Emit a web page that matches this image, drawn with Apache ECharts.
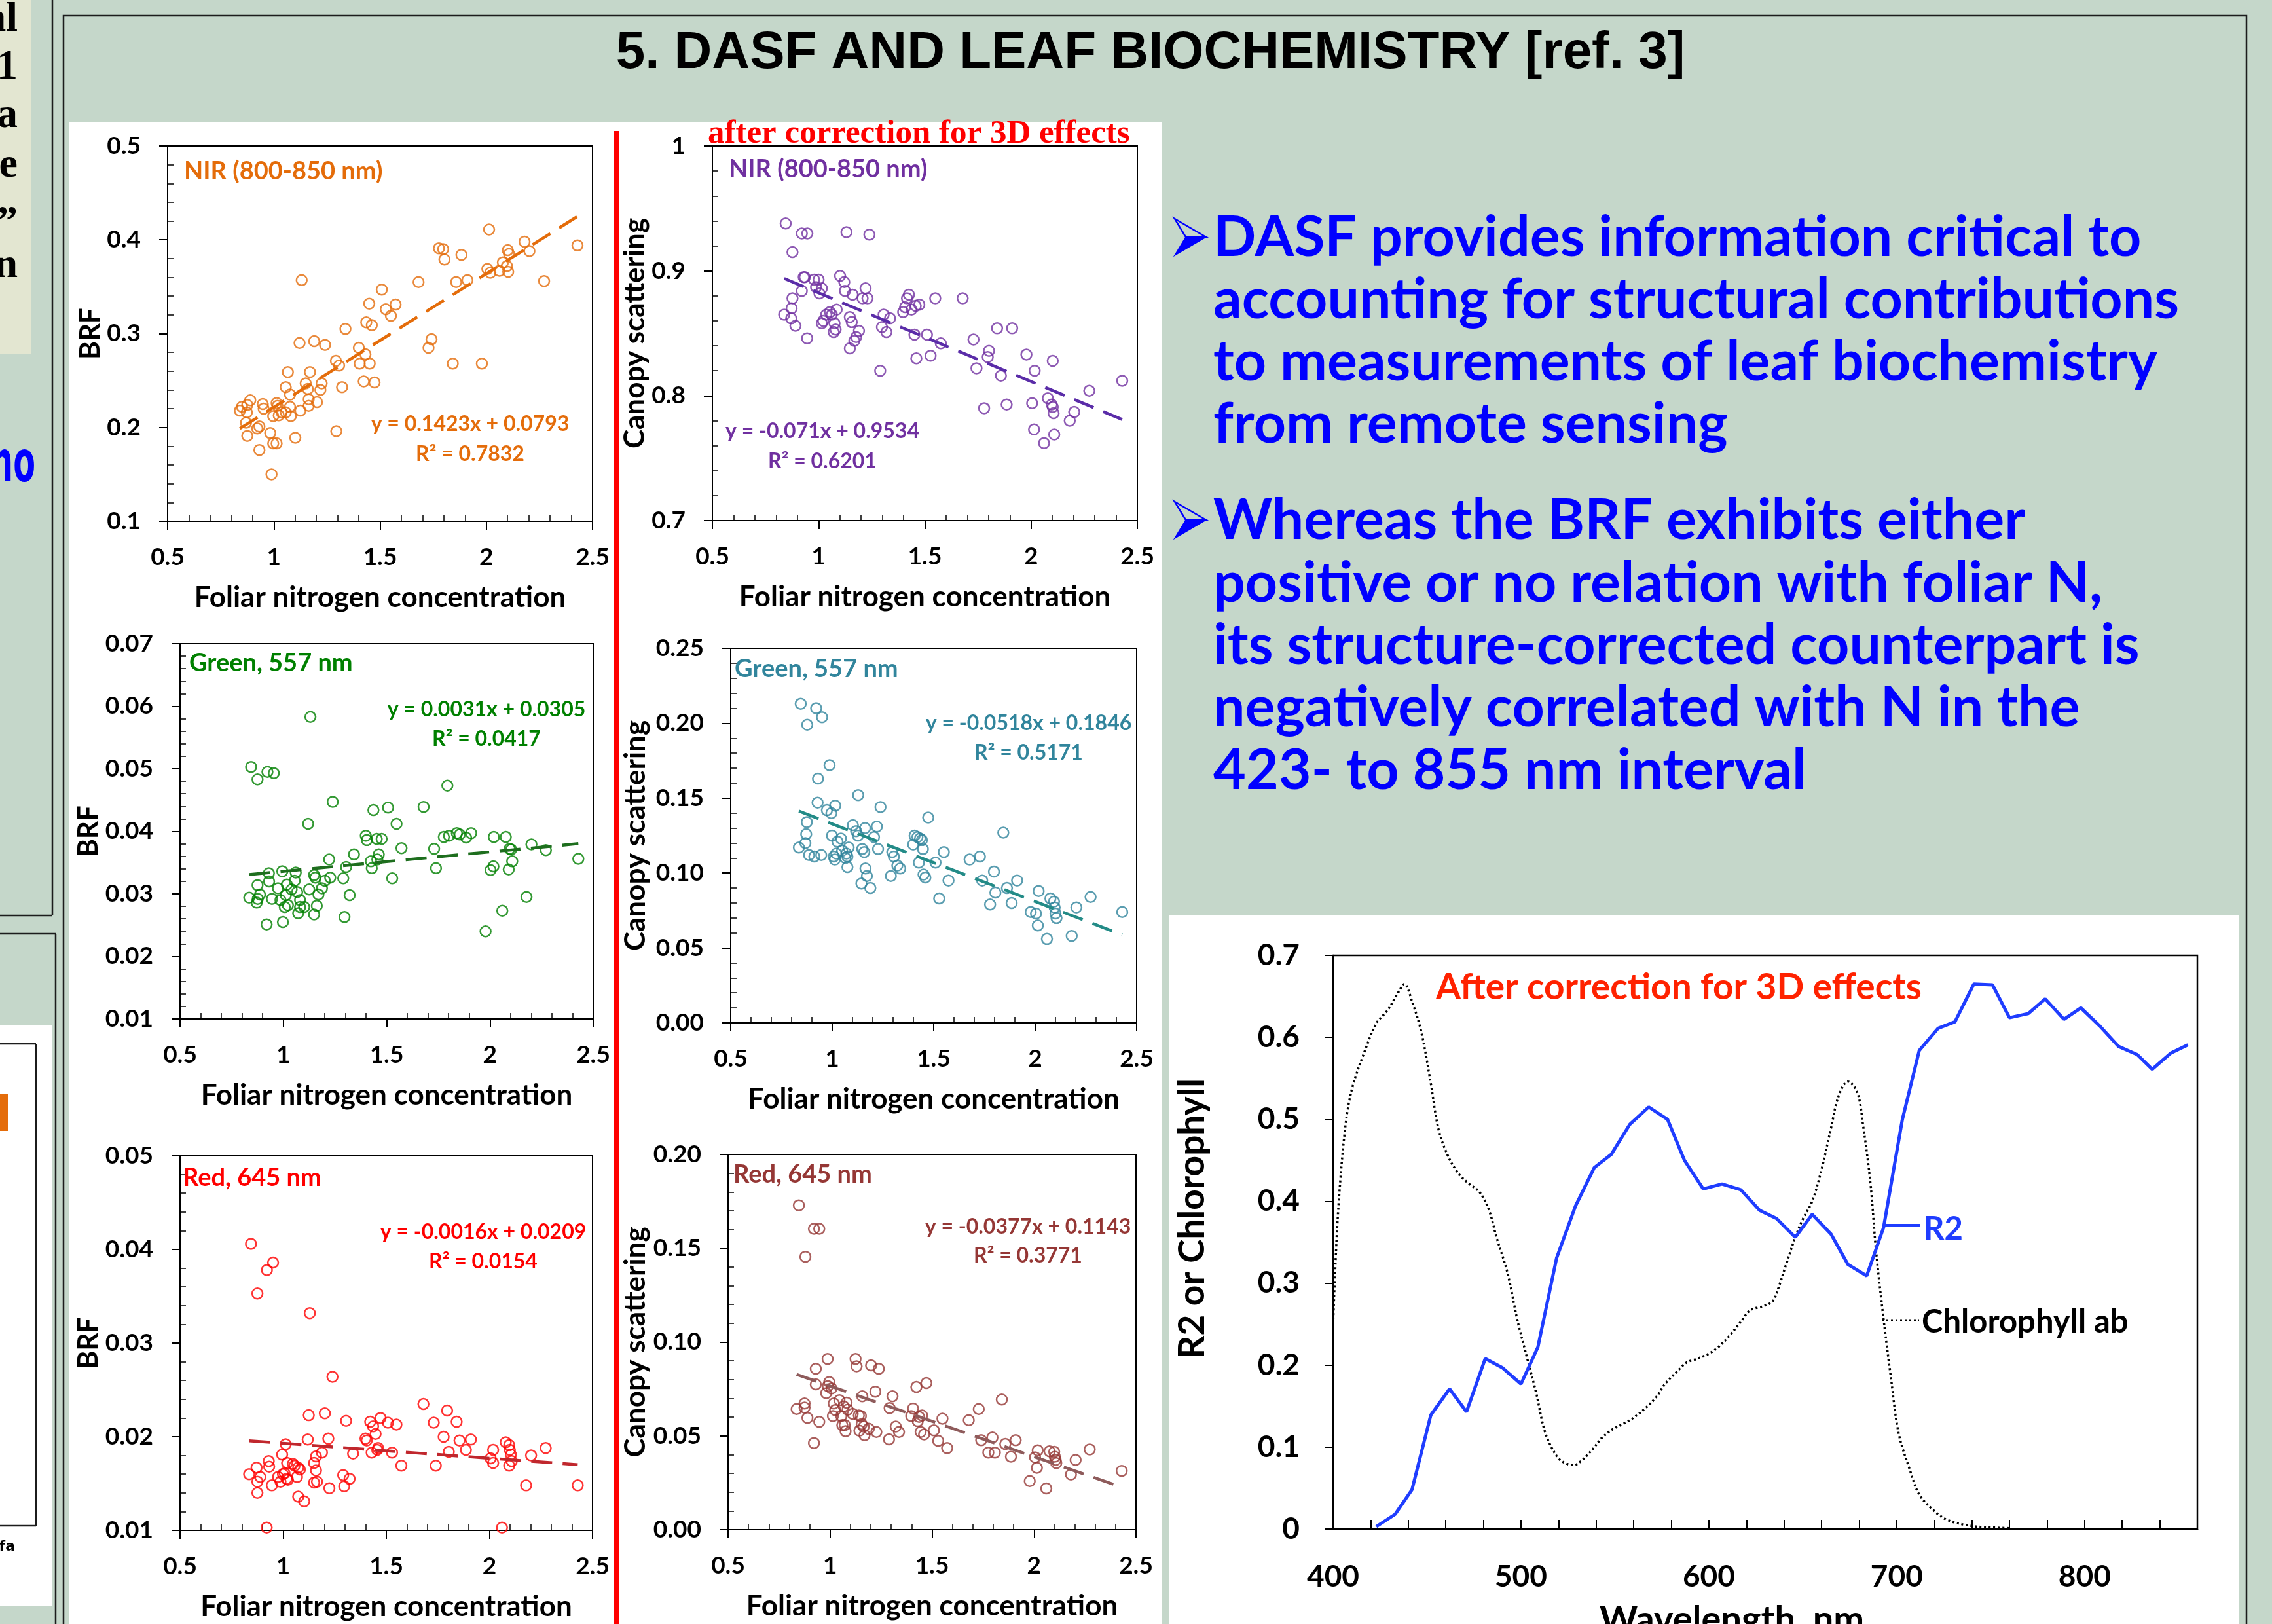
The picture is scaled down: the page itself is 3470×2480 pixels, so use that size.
<!DOCTYPE html>
<html><head><meta charset="utf-8">
<script src="https://cdn.jsdelivr.net/npm/echarts@6/dist/echarts.min.js"></script>
<style>html,body{margin:0;padding:0;background:#C5D7CA;overflow:hidden}#c{width:3470px;height:2480px}</style>
</head><body><div id="c"></div>
<script>
// ---------------- DATA ----------------
const nirBrf = [[0.840,0.218],[0.850,0.222],[0.873,0.216],[0.875,0.224],[0.889,0.229],[0.869,0.205],[0.875,0.191],[0.922,0.199],[0.932,0.201],[0.932,0.176],[0.948,0.225],[0.952,0.220],[0.983,0.194],[0.989,0.150],[0.997,0.183],[1.013,0.183],[0.997,0.212],[1.013,0.226],[1.017,0.223],[1.023,0.213],[1.036,0.216],[1.056,0.216],[1.066,0.259],[1.056,0.243],[1.076,0.235],[1.076,0.222],[1.080,0.212],[1.101,0.189],[1.121,0.290],[1.125,0.218],[1.131,0.357],[1.150,0.247],[1.160,0.241],[1.164,0.230],[1.164,0.223],[1.170,0.259],[1.190,0.292],[1.203,0.227],[1.219,0.240],[1.225,0.247],[1.241,0.288],[1.292,0.271],[1.294,0.196],[1.307,0.266],[1.321,0.243],[1.337,0.305],[1.400,0.285],[1.404,0.268],[1.423,0.249],[1.431,0.278],[1.435,0.312],[1.449,0.332],[1.451,0.268],[1.461,0.309],[1.474,0.248],[1.508,0.347],[1.527,0.326],[1.551,0.319],[1.573,0.331],[1.681,0.355],[1.728,0.285],[1.742,0.294],[1.777,0.391],[1.797,0.390],[1.803,0.379],[1.842,0.268],[1.858,0.355],[1.883,0.384],[1.911,0.357],[1.979,0.268],[2.005,0.369],[2.013,0.411],[2.019,0.365],[2.062,0.367],[2.078,0.376],[2.097,0.372],[2.101,0.389],[2.107,0.385],[2.103,0.366],[2.180,0.398],[2.203,0.388],[2.272,0.356],[2.429,0.394]];
const nirScat = [[0.838,0.865],[0.845,0.938],[0.873,0.870],[0.877,0.878],[0.877,0.915],[0.871,0.862],[0.891,0.856],[0.921,0.930],[0.947,0.930],[0.921,0.884],[0.930,0.895],[0.935,0.895],[0.946,0.846],[0.979,0.893],[0.988,0.887],[1.000,0.893],[1.004,0.882],[1.015,0.886],[1.015,0.858],[1.022,0.860],[1.036,0.865],[1.053,0.867],[1.062,0.865],[1.071,0.851],[1.075,0.858],[1.080,0.853],[1.085,0.869],[1.101,0.896],[1.121,0.891],[1.124,0.884],[1.131,0.931],[1.147,0.863],[1.147,0.838],[1.156,0.859],[1.160,0.881],[1.168,0.844],[1.177,0.847],[1.190,0.852],[1.207,0.878],[1.221,0.886],[1.230,0.878],[1.239,0.929],[1.290,0.820],[1.298,0.855],[1.306,0.865],[1.319,0.851],[1.336,0.862],[1.398,0.867],[1.407,0.871],[1.416,0.878],[1.425,0.881],[1.437,0.869],[1.457,0.872],[1.474,0.873],[1.451,0.849],[1.460,0.830],[1.510,0.849],[1.527,0.832],[1.549,0.878],[1.575,0.842],[1.678,0.878],[1.729,0.845],[1.743,0.822],[1.779,0.790],[1.802,0.836],[1.796,0.831],[1.840,0.854],[1.858,0.816],[1.885,0.793],[1.911,0.854],[1.978,0.833],[2.005,0.794],[2.014,0.773],[2.017,0.820],[2.061,0.762],[2.079,0.798],[2.097,0.793],[2.102,0.791],[2.102,0.828],[2.106,0.786],[2.109,0.769],[2.182,0.780],[2.203,0.787],[2.274,0.804],[2.429,0.812]];
const greenBrf = [[0.835,0.0294],[0.844,0.0503],[0.871,0.0286],[0.875,0.0483],[0.875,0.0314],[0.876,0.0292],[0.887,0.0299],[0.919,0.0251],[0.923,0.0495],[0.930,0.0333],[0.931,0.0320],[0.945,0.0292],[0.954,0.0493],[0.974,0.0309],[0.986,0.0290],[0.995,0.0336],[0.998,0.0255],[1.007,0.0279],[1.012,0.0298],[1.017,0.0315],[1.022,0.0282],[1.040,0.0307],[1.055,0.0321],[1.060,0.0334],[1.067,0.0303],[1.072,0.0269],[1.081,0.0290],[1.081,0.0279],[1.101,0.0279],[1.120,0.0412],[1.125,0.0307],[1.131,0.0583],[1.149,0.0330],[1.149,0.0267],[1.155,0.0326],[1.162,0.0281],[1.170,0.0299],[1.187,0.0309],[1.201,0.0321],[1.222,0.0355],[1.227,0.0326],[1.239,0.0447],[1.290,0.0325],[1.296,0.0263],[1.304,0.0343],[1.321,0.0298],[1.342,0.0363],[1.399,0.0393],[1.404,0.0386],[1.424,0.0352],[1.428,0.0341],[1.436,0.0434],[1.452,0.0388],[1.455,0.0355],[1.462,0.0363],[1.476,0.0388],[1.507,0.0438],[1.527,0.0325],[1.548,0.0412],[1.572,0.0373],[1.679,0.0439],[1.730,0.0372],[1.739,0.0341],[1.777,0.0391],[1.794,0.0473],[1.802,0.0393],[1.840,0.0397],[1.854,0.0395],[1.885,0.0390],[1.909,0.0397],[1.979,0.0240],[2.003,0.0338],[2.017,0.0344],[2.019,0.0391],[2.060,0.0273],[2.077,0.0391],[2.091,0.0339],[2.095,0.0372],[2.103,0.0371],[2.108,0.0352],[2.177,0.0295],[2.201,0.0379],[2.271,0.0370],[2.428,0.0356]];
const greenScat = [[0.836,0.117],[0.845,0.213],[0.868,0.120],[0.872,0.126],[0.875,0.134],[0.877,0.199],[0.886,0.112],[0.912,0.111],[0.921,0.210],[0.928,0.147],[0.930,0.163],[0.946,0.112],[0.950,0.204],[0.974,0.142],[0.987,0.172],[0.996,0.140],[0.999,0.125],[1.008,0.111],[1.013,0.109],[1.015,0.145],[1.020,0.113],[1.026,0.121],[1.043,0.123],[1.049,0.115],[1.065,0.110],[1.070,0.113],[1.075,0.111],[1.081,0.117],[1.075,0.104],[1.102,0.132],[1.118,0.128],[1.127,0.125],[1.128,0.152],[1.144,0.093],[1.148,0.116],[1.158,0.114],[1.162,0.130],[1.164,0.103],[1.171,0.098],[1.188,0.090],[1.206,0.124],[1.220,0.131],[1.226,0.116],[1.238,0.144],[1.289,0.098],[1.296,0.114],[1.304,0.111],[1.321,0.105],[1.335,0.103],[1.399,0.119],[1.406,0.125],[1.420,0.124],[1.433,0.123],[1.442,0.122],[1.427,0.107],[1.447,0.116],[1.450,0.099],[1.459,0.097],[1.473,0.137],[1.509,0.107],[1.527,0.083],[1.550,0.114],[1.573,0.095],[1.677,0.109],[1.728,0.111],[1.739,0.095],[1.778,0.079],[1.797,0.101],[1.804,0.087],[1.843,0.127],[1.861,0.090],[1.884,0.080],[1.911,0.095],[1.978,0.074],[2.004,0.073],[2.013,0.065],[2.017,0.088],[2.058,0.056],[2.075,0.083],[2.093,0.081],[2.096,0.077],[2.100,0.073],[2.105,0.070],[2.180,0.058],[2.203,0.077],[2.273,0.084],[2.429,0.074]];
const redBrf = [[0.835,0.0160],[0.844,0.0406],[0.871,0.0167],[0.875,0.0353],[0.875,0.0140],[0.875,0.0152],[0.889,0.0157],[0.920,0.0103],[0.921,0.0378],[0.930,0.0174],[0.932,0.0168],[0.945,0.0148],[0.951,0.0386],[0.975,0.0157],[0.987,0.0152],[0.995,0.0181],[0.999,0.0160],[1.007,0.0161],[1.012,0.0192],[1.016,0.0155],[1.023,0.0154],[1.019,0.0172],[1.047,0.0171],[1.055,0.0169],[1.067,0.0157],[1.073,0.0136],[1.073,0.0167],[1.081,0.0165],[1.102,0.0131],[1.119,0.0197],[1.124,0.0223],[1.129,0.0332],[1.150,0.0172],[1.150,0.0151],[1.159,0.0179],[1.159,0.0164],[1.164,0.0152],[1.188,0.0183],[1.202,0.0225],[1.219,0.0198],[1.224,0.0145],[1.239,0.0264],[1.291,0.0159],[1.296,0.0147],[1.305,0.0217],[1.322,0.0155],[1.339,0.0182],[1.399,0.0198],[1.405,0.0196],[1.422,0.0216],[1.429,0.0183],[1.436,0.0211],[1.448,0.0203],[1.456,0.0186],[1.460,0.0188],[1.472,0.0220],[1.508,0.0215],[1.528,0.0183],[1.549,0.0213],[1.573,0.0169],[1.680,0.0235],[1.730,0.0215],[1.740,0.0169],[1.778,0.0200],[1.795,0.0228],[1.803,0.0184],[1.841,0.0216],[1.855,0.0196],[1.886,0.0186],[1.910,0.0197],[2.006,0.0177],[2.018,0.0186],[2.018,0.0172],[2.061,0.0103],[2.079,0.0194],[2.096,0.0191],[2.099,0.0186],[2.104,0.0181],[2.096,0.0169],[2.108,0.0174],[2.178,0.0148],[2.202,0.0180],[2.273,0.0188],[2.428,0.0148]];
const redScat = [[0.836,0.0643],[0.847,0.1729],[0.875,0.0651],[0.875,0.0673],[0.879,0.1455],[0.889,0.0596],[0.921,0.0462],[0.921,0.1604],[0.930,0.0858],[0.930,0.0775],[0.947,0.1604],[0.947,0.0575],[0.981,0.0728],[0.988,0.0910],[0.989,0.0765],[0.996,0.0787],[1.007,0.0753],[1.014,0.0606],[1.018,0.0673],[1.025,0.0638],[1.046,0.0690],[1.055,0.0606],[1.060,0.0558],[1.067,0.0657],[1.072,0.0558],[1.076,0.0525],[1.081,0.0677],[1.086,0.0640],[1.111,0.0618],[1.125,0.0910],[1.130,0.0871],[1.141,0.0609],[1.144,0.0528],[1.151,0.0606],[1.155,0.0563],[1.158,0.0711],[1.165,0.0550],[1.169,0.0504],[1.190,0.0538],[1.201,0.0876],[1.222,0.0736],[1.227,0.0521],[1.239,0.0858],[1.289,0.0482],[1.292,0.0648],[1.306,0.0711],[1.322,0.0550],[1.338,0.0521],[1.398,0.0606],[1.407,0.0646],[1.423,0.0761],[1.430,0.0579],[1.437,0.0601],[1.444,0.0521],[1.451,0.0609],[1.461,0.0508],[1.472,0.0782],[1.509,0.0530],[1.530,0.0474],[1.551,0.0592],[1.574,0.0435],[1.680,0.0584],[1.729,0.0643],[1.741,0.0477],[1.776,0.0411],[1.796,0.0491],[1.808,0.0411],[1.842,0.0694],[1.859,0.0457],[1.887,0.0389],[1.910,0.0477],[1.979,0.0259],[2.005,0.0386],[2.014,0.0330],[2.018,0.0423],[2.060,0.0220],[2.076,0.0418],[2.099,0.0415],[2.102,0.0389],[2.106,0.0372],[2.109,0.0355],[2.181,0.0294],[2.204,0.0372],[2.273,0.0428],[2.430,0.0313]];

const panelNames = ['NIR (800-850 nm)','NIR (800-850 nm)','Green, 557 nm','Green, 557 nm','Red, 645 nm','Red, 645 nm'];
const panelYTitles = ['BRF','Canopy scattering','BRF','Canopy scattering','BRF','Canopy scattering'];
const xTitle = 'Foliar nitrogen concentration';
const trendSlopes = [0.1423,-0.071,0.0031,-0.0518,-0.0016,-0.0377];
const trendIntercepts = [0.0793,0.9534,0.0305,0.1846,0.0209,0.1143];
const equationTexts = ['y = 0.1423x + 0.0793','y = -0.071x + 0.9534','y = 0.0031x + 0.0305','y = -0.0518x + 0.1846','y = -0.0016x + 0.0209','y = -0.0377x + 0.1143'];
const r2Texts = ['R² = 0.7832','R² = 0.6201','R² = 0.0417','R² = 0.5171','R² = 0.0154','R² = 0.3771'];
const yMins = [0.1,0.7,0.01,0,0.01,0];
const yMaxs = [0.5,1.0,0.07,0.25,0.05,0.20];
const yIntervals = [0.1,0.1,0.01,0.05,0.01,0.05];
const yDecimals = [1,1,2,2,2,2];
const xMin = 0.5, xMax = 2.5, xInterval = 0.5;

const r2Wavelengths = [423,433,442,452,462,471,481,490,500,509,519,529,539,548,558,568,578,587,597,607,617,627,636,646,655,665,674,684,693,703,712,722,731,741,751,760,770,779,789,798,808,818,828,836,846,855];
const r2Values = [0.003,0.018,0.048,0.139,0.171,0.143,0.208,0.197,0.177,0.222,0.331,0.394,0.441,0.457,0.494,0.515,0.500,0.450,0.415,0.421,0.414,0.389,0.379,0.356,0.384,0.360,0.323,0.309,0.368,0.500,0.584,0.611,0.619,0.665,0.664,0.624,0.629,0.647,0.622,0.636,0.614,0.589,0.579,0.561,0.581,0.591];
const chlWavelengths = [400,402,404,406,408,411,416,423,429,435,438,442,447,452,456,461,467,472,478,483,487,493,498,503,508,513,519,523,528,532,538,543,549,555,560,566,572,577,583,588,594,600,605,611,617,622,629,634,637,641,646,650,655,660,665,669,674,679,682,686,689,693,697,701,707,712,720,727,739,750,760];
const chlValues = [0.25,0.36,0.43,0.48,0.515,0.545,0.578,0.617,0.633,0.656,0.665,0.644,0.606,0.544,0.489,0.456,0.433,0.422,0.411,0.389,0.356,0.311,0.256,0.211,0.167,0.117,0.089,0.081,0.078,0.083,0.097,0.111,0.122,0.129,0.136,0.147,0.161,0.178,0.192,0.203,0.208,0.214,0.222,0.236,0.253,0.267,0.272,0.278,0.294,0.322,0.356,0.378,0.400,0.439,0.489,0.528,0.546,0.533,0.494,0.422,0.339,0.256,0.183,0.117,0.072,0.042,0.022,0.011,0.004,0.002,0.001];

const bullet1 = ['DASF provides information critical to','accounting for structural contributions','to measurements of leaf biochemistry','from remote sensing'];
const bullet2 = ['Whereas the BRF exhibits either','positive or no relation with foliar N,','its structure-corrected counterpart is','negatively correlated with N in the','423- to 855 nm interval'];

// ---------------- LAYOUT / STYLE ----------------
const scatterSets = [nirBrf, nirScat, greenBrf, greenScat, redBrf, redScat];
const L = [
  {left:256, top:223, w:649, h:573, yGap:95,  color:'#E46C0A', line:'#E46C0A', lab:[281,262],  eq:[718,648,694]},
  {left:1088,top:223, w:649, h:572, yGap:92,  color:'#7030A0', line:'#5A2CA8', lab:[1113,259], eq:[1256,659,705]},
  {left:275, top:983, w:631, h:573, yGap:115, color:'#008000', line:'#1E6E1E', lab:[289,1013], eq:[743,1084,1129]},
  {left:1116,top:990, w:620, h:572, yGap:123, color:'#31859C', line:'#238B87', lab:[1122,1022],eq:[1571,1105,1150]},
  {left:275, top:1765,w:630, h:572, yGap:115, color:'#FF0000', line:'#C0272D', lab:[279,1799], eq:[738,1882,1927]},
  {left:1112,top:1763,w:623, h:573, yGap:119, color:'#953735', line:'#8E5B5B', lab:[1120,1794],eq:[1570,1874,1918]}
];
const FONT = 'Lato';
const grids = [], xAxes = [], yAxes = [], series = [];
L.forEach((p, i) => {
  grids.push({left:p.left, top:p.top, width:p.w, height:p.h, show:true, borderColor:'#000', borderWidth:2, backgroundColor:'transparent', containLabel:false, outerBoundsMode:'none'});
  const common = {
    gridIndex:i, type:'value',
    axisLine:{show:true, onZero:false, lineStyle:{color:'#000', width:2}},
    axisTick:{show:true, inside:false, length:13, lineStyle:{color:'#000', width:2}},
    minorTick:{show:true, splitNumber:5, length:-9, lineStyle:{color:'#000', width:1.5}},
    splitLine:{show:false}, minorSplitLine:{show:false},
    nameLocation:'middle',
    nameTextStyle:{fontFamily:FONT, fontWeight:'bold', fontSize:44, color:'#000'}
  };
  xAxes.push(Object.assign({}, common, {
    min:xMin, max:xMax, interval:xInterval, position:'bottom',
    name:xTitle, nameGap:95,
    axisLabel:{fontFamily:FONT, fontWeight:'bold', fontSize:37, color:'#000', margin:37, formatter:v => String(Number(v.toFixed(1)))}
  }));
  yAxes.push(Object.assign({}, common, {
    min:yMins[i], max:yMaxs[i], interval:yIntervals[i], position:'left',
    name:panelYTitles[i], nameGap:p.yGap,
    nameTextStyle:{fontFamily:FONT, fontWeight:'bold', fontSize:i%2===0?42:44, color:'#000'},
    axisLabel:{fontFamily:FONT, fontWeight:'bold', fontSize:37, color:'#000', margin:41,
      formatter: (i===1) ? (v => String(Number(v.toFixed(1)))) : (v => v.toFixed(yDecimals[i]))}
  }));
  const d = scatterSets[i];
  series.push({type:'scatter', xAxisIndex:i, yAxisIndex:i, data:d, symbol:'circle', symbolSize:16,
    itemStyle:{color:'rgba(255,255,255,0)', borderColor:p.color, borderWidth:2.5}, silent:true, z:3});
  const xs = d.map(q => q[0]);
  const x0 = Math.min(...xs), x1 = Math.max(...xs);
  series.push({type:'line', xAxisIndex:i, yAxisIndex:i, symbol:'none', silent:true, z:4,
    data:[[x0, trendSlopes[i]*x0 + trendIntercepts[i]], [x1, trendSlopes[i]*x1 + trendIntercepts[i]]],
    lineStyle:{color:p.line, width:4.5, type:[32,16]}});
});

// line chart (grid 6)
grids.push({left:2036, top:1459, width:1320, height:876, show:true, borderColor:'#000', borderWidth:2.5, backgroundColor:'transparent', containLabel:false, outerBoundsMode:'none'});
xAxes.push({gridIndex:6, type:'value', min:400, max:860, interval:20, position:'bottom',
  axisLine:{show:true, onZero:false, lineStyle:{color:'#000', width:2.5}},
  axisTick:{show:true, inside:true, length:14, lineStyle:{color:'#000', width:2}},
  splitLine:{show:false},
  axisLabel:{fontFamily:FONT, fontWeight:'bold', fontSize:46, color:'#000', margin:50, formatter:v => (v % 100 === 0 ? String(v) : '')},
  name:'Wavelength, nm', nameLocation:'middle', nameGap:111,
  nameTextStyle:{fontFamily:FONT, fontWeight:'bold', fontSize:56, color:'#000', padding:[0,102,0,0]}
});
yAxes.push({gridIndex:6, type:'value', min:0, max:0.7, interval:0.1, position:'left',
  axisLine:{show:true, onZero:false, lineStyle:{color:'#000', width:2.5}},
  axisTick:{show:true, inside:false, length:13, lineStyle:{color:'#000', width:2}},
  splitLine:{show:false},
  axisLabel:{fontFamily:FONT, fontWeight:'bold', fontSize:46, color:'#000', margin:51, formatter:v => (Math.abs(v) < 1e-9 ? '0' : v.toFixed(1))},
  name:'R2 or Chlorophyll', nameLocation:'middle', nameGap:187,
  nameTextStyle:{fontFamily:FONT, fontWeight:'bold', fontSize:55, color:'#000', padding:[0,0,0,72]}
});
series.push({type:'line', xAxisIndex:6, yAxisIndex:6, symbol:'none', silent:true, z:5, smooth:0.35,
  data:chlWavelengths.map((w, k) => [w, chlValues[k]]),
  lineStyle:{color:'#000', width:3.5, type:[3,4]}});
series.push({type:'line', xAxisIndex:6, yAxisIndex:6, symbol:'none', silent:true, z:6,
  data:r2Wavelengths.map((w, k) => [w, r2Values[k]]),
  lineStyle:{color:'#1F3DFF', width:5}});

// ---------------- GRAPHIC (page, labels) ----------------
const G = [];
function rect(x, y, w, h, fill, z, stroke, lw) {
  G.push({type:'rect', silent:true, z:z, shape:{x:x, y:y, width:w, height:h},
    style:{fill:fill || 'transparent', stroke:stroke || null, lineWidth:lw || 0}});
}
function line(x1, y1, x2, y2, stroke, lw, dash, z) {
  G.push({type:'line', silent:true, z:z == null ? 20 : z, shape:{x1:x1, y1:y1, x2:x2, y2:y2},
    style:{stroke:stroke, lineWidth:lw, lineDash:dash || null}});
}
function poly(points, fill, stroke, lw) {
  G.push({type:'polygon', silent:true, z:30, shape:{points:points},
    style:{fill:fill || 'transparent', stroke:stroke || null, lineWidth:lw || 0, lineJoin:'miter'}});
}
function txt(x, y, text, o) {
  o = o || {};
  const al = o.align || 'left', va = o.va || 'middle';
  G.push({type:'text', silent:true, z:30, x:x, y:y, rotation:o.rot || 0, scaleX:o.sx || 1,
    style:{text:text, fill:o.color || '#000', fontFamily:o.family || FONT, fontWeight:o.weight || 'bold',
      fontSize:o.size || 40, lineHeight:o.lh, align:al, textAlign:al, verticalAlign:va, textVerticalAlign:va}});
}
// backgrounds
rect(0, 0, 47, 541, '#E3E6D1', -10);
rect(105, 187, 1670, 2320, '#FFFFFF', -10);
rect(1785, 1398, 1635, 1110, '#FFFFFF', -10);
rect(0, 1566, 79, 887, '#FFFFFF', -10);
rect(937, 200, 9, 2300, '#FF0000', 25);
rect(0, 1671, 12, 56, '#E46C0A', 25);
// frames
rect(97, 24, 3334, 2500, null, 20, '#1C1C1C', 2.5);
line(80, 0, 80, 1398, '#1C1C1C', 2.5);
line(0, 1398, 80, 1398, '#1C1C1C', 2.5);
line(0, 1426, 85, 1426, '#1C1C1C', 2.5);
line(85, 1426, 85, 2480, '#1C1C1C', 2.5);
line(0, 1594, 55, 1594, '#1C1C1C', 2.5);
line(55, 1594, 55, 2330, '#1C1C1C', 2.5);
line(0, 2330, 55, 2330, '#1C1C1C', 2.5);
// left cut-off texts
const cut = [['al',30],['1',103],['a',177],['e',253],['\u201D',341],['n',406]];
cut.forEach(c => txt(27, c[1], c[0], {align:'right', family:'Liberation Serif', size:64}));
txt(54, 712, 'no', {align:'right', family:'DejaVu Sans', size:88, color:'#0000FF', sx:0.56});
txt(23, 2362, 'lfa', {align:'right', family:'DejaVu Sans', size:22});
// title
txt(1757, 82, '5. DASF AND LEAF BIOCHEMISTRY [ref. 3]', {align:'center', family:'Liberation Sans', size:80});
txt(1081, 205, 'after correction for 3D effects', {family:'Liberation Serif', size:51, color:'#FF0000'});
// panel labels & equations
L.forEach((p, i) => {
  txt(p.lab[0], p.lab[1], panelNames[i], {size:38, color:p.color});
  txt(p.eq[0], p.eq[1], equationTexts[i], {align:'center', size:32, color:p.color});
  txt(p.eq[0], p.eq[2], r2Texts[i], {align:'center', size:32, color:p.color});
});
// bullet arrowheads (upper half outlined, lower half filled)
[0, 432].forEach(dy => {
  poly([[1794,334+dy],[1842,362+dy],[1811,362+dy]], null, '#0000FF', 2.5);
  poly([[1811,362+dy],[1842,362+dy],[1794,390+dy]], '#0000FF', '#0000FF', 1.5);
});
txt(1853, 315.5, bullet1.join('\n'), {va:'top', size:86, lh:95, color:'#0000FF'});
txt(1853, 748, bullet2.join('\n'), {va:'top', size:86, lh:95.3, color:'#0000FF'});
// line chart labels
txt(2193, 1508, 'After correction for 3D effects', {size:55, color:'#FF2200'});
line(2877, 1871, 2933, 1871, '#1F3DFF', 4);
txt(2938, 1877, 'R2', {size:49, color:'#1F3DFF'});
line(2874, 2016, 2931, 2016, '#000', 3, [3,4]);
txt(2935, 2019, 'Chlorophyll ab', {size:49});

const chart = echarts.init(document.getElementById('c'), null, {renderer:'canvas'});
chart.setOption({
  backgroundColor:'#C5D7CA', animation:false,
  textStyle:{fontFamily:FONT},
  grid:grids, xAxis:xAxes, yAxis:yAxes, series:series,
  graphic:{elements:G}
});
</script></body></html>
